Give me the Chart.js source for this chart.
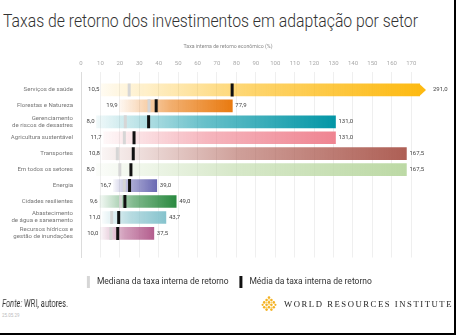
<!DOCTYPE html>
<html>
<head>
<meta charset="utf-8">
<script src="https://cdn.jsdelivr.net/npm/chart.js@4.4.1/dist/chart.umd.min.js"></script>
<style>
  html, body { margin: 0; padding: 0; background: #fff; }
  #page { position: relative; width: 456px; height: 335px; overflow: hidden; font-family: Roboto, sans-serif; }
  #title { position: absolute; left: 3px; top: 10px; font-size: 18px; font-weight: 300; color: #333; white-space: nowrap; transform-origin: left top; }
  #chartBox { position: absolute; left: 0; top: 36px; width: 456px; height: 262px; }
  #source { position: absolute; left: 2px; top: 298px; font-size: 10px; color: #333; white-space: nowrap; transform-origin: left top; will-change: transform; -webkit-font-smoothing: antialiased; }
  #date { position: absolute; left: 2px; top: 313px; font-size: 4.5px; color: #bbb; }
  #logo { position: absolute; left: 261px; top: 296px; width: 16px; height: 16px; }
  #wri { position: absolute; left: 284px; top: 299px; font-family: 'Liberation Serif', serif; font-size: 9px; letter-spacing: 1.6px; color: #222; white-space: nowrap; transform-origin: left top; }
  #frame { position: absolute; right: 0; bottom: 0; width: 456px; height: 335px; box-sizing: border-box; border-right: 2px solid #000; border-bottom: 2px solid #000; pointer-events: none; }
</style>
</head>
<body>
<div id="page">
  <div id="title">Taxas de retorno dos investimentos em adaptação por setor</div>
  <div id="chartBox"><canvas id="chart"></canvas></div>
  <div id="source"><i>Fonte:</i> WRI, autores.</div>
  <div id="date">25.05.29</div>
  <svg id="logo" viewBox="0 0 16 16">
    <g fill="#F4B224">
      <circle cx="8" cy="1.6" r="1.3"/>
      <circle cx="5.6" cy="4" r="1.3"/><circle cx="10.4" cy="4" r="1.3"/>
      <circle cx="3.2" cy="6.4" r="1.3"/><circle cx="8" cy="6.4" r="1.3"/><circle cx="12.8" cy="6.4" r="1.3"/>
      <circle cx="1.6" cy="8.8" r="1.1"/><circle cx="5.6" cy="8.8" r="1.3"/><circle cx="10.4" cy="8.8" r="1.3"/><circle cx="14.4" cy="8.8" r="1.1"/>
      <circle cx="3.2" cy="11.2" r="1.3"/><circle cx="8" cy="11.2" r="1.3"/><circle cx="12.8" cy="11.2" r="1.3"/>
      <circle cx="5.6" cy="13.6" r="1.3"/><circle cx="10.4" cy="13.6" r="1.3"/>
    </g>
    <g fill="#FBD46A">
      <circle cx="8" cy="4" r="0.8"/><circle cx="5.6" cy="6.4" r="0.8"/><circle cx="10.4" cy="6.4" r="0.8"/>
      <circle cx="8" cy="8.8" r="0.8"/><circle cx="5.6" cy="11.2" r="0.8"/><circle cx="10.4" cy="11.2" r="0.8"/>
    </g>
  </svg>
  <div id="wri">WORLD RESOURCES INSTITUTE</div>
  <div id="frame"></div>
</div>
<script>
// setores, de cima para baixo
const sectors = [
  'Serviços de saúde',
  'Florestas e Natureza',
  ['Gerenciamento', 'de riscos de desastres'],
  'Agricultura sustentável',
  'Transportes',
  'Em todos os setores',
  'Energia',
  'Cidades resilientes',
  ['Abastecimento', 'de água e saneamento'],
  ['Recursos hídricos e', 'gestão de inundações'],
];
const minRates = [10.5, 19.9, 8.0, 11.7, 10.8, 8.0, 16.7, 9.6, 11.0, 10.0];
const maxRates = [291.0, 77.9, 131.0, 131.0, 167.5, 167.5, 39.0, 49.0, 43.7, 37.5];
const medianRates = [24.8, 35.0, 22.8, 22.3, 18.7, 20.0, 22.3, 20.4, 15.8, 15.4];
const meanRates = [77.8, 38.7, 34.8, 27.3, 26.9, 25.7, 25.0, 22.6, 19.4, 18.9];
const sectorColors = ['#FDBA12', '#E97A10', '#0396A6', '#EF8491', '#AE5F55', '#BCD9A5', '#6B6AB3', '#2A8A40', '#86C3CD', '#B45E8E'];
const xTicks = [0, 10, 20, 30, 40, 50, 60, 70, 80, 90, 100, 110, 120, 130, 140, 150, 160, 170];
const X_MAX = 174.5;

function rgba(hex, a) {
  const n = parseInt(hex.slice(1), 16);
  return `rgba(${(n >> 16) & 255}, ${(n >> 8) & 255}, ${n & 255}, ${a})`;
}
const fmt = (v) => v.toFixed(1).replace('.', ',');

function barFill(context) {
  const i = context.dataIndex;
  const color = sectorColors[i];
  const { chart } = context;
  if (!chart.chartArea || context.type !== 'data') return color;
  const x = chart.scales.x;
  const x0 = x.getPixelForValue(minRates[i]);
  const x1 = Math.min(x.getPixelForValue(maxRates[i]), chart.chartArea.right);
  const g = chart.ctx.createLinearGradient(x0, 0, x1, 0);
  g.addColorStop(0, rgba(color, 0.06));
  g.addColorStop(0.45, rgba(color, 0.6));
  g.addColorStop(1, color);
  return g;
}

// rótulos de mínimo e máximo + seta da barra que passa do eixo
const valueLabels = {
  id: 'valueLabels',
  afterDatasetsDraw(chart) {
    const { ctx, chartArea, scales: { x } } = chart;
    const meta = chart.getDatasetMeta(0);
    ctx.save();
    ctx.font = '6px Roboto';
    ctx.textBaseline = 'middle';
    meta.data.forEach((bar, i) => {
      const left = x.getPixelForValue(minRates[i]);
      let right = x.getPixelForValue(maxRates[i]) + 3;
      if (maxRates[i] > X_MAX) {
        const h = bar.height / 2;
        ctx.fillStyle = sectorColors[i];
        ctx.beginPath();
        ctx.moveTo(chartArea.right - 0.5, bar.y - h);
        ctx.lineTo(chartArea.right + 6, bar.y);
        ctx.lineTo(chartArea.right - 0.5, bar.y + h);
        ctx.closePath();
        ctx.fill();
        right = chartArea.right + 13;
      }
      ctx.fillStyle = '#444';
      ctx.textAlign = 'right';
      ctx.fillText(fmt(minRates[i]), left - 2, bar.y);
      ctx.textAlign = 'left';
      ctx.fillText(fmt(maxRates[i]), right, bar.y);
    });
    ctx.restore();
  },
};

new Chart(document.getElementById('chart'), {
  type: 'bar',
  data: {
    datasets: [
      {
        type: 'bar',
        label: 'Intervalo',
        data: minRates.map((v, i) => ({ x: [v, maxRates[i]], y: i })),
        backgroundColor: barFill,
        barThickness: 12,
        borderWidth: 0,
        clip: 0,
        order: 3,
      },
      {
        type: 'line',
        label: 'Mediana da taxa interna de retorno',
        data: medianRates.map((v, i) => ({ x: v, y: i })),
        showLine: false,
        pointStyle: 'line',
        rotation: 90,
        radius: 6.5,
        hoverRadius: 6.5,
        borderWidth: 3,
        borderColor: '#d6d6d6',
        backgroundColor: '#d6d6d6',
        order: 2,
      },
      {
        type: 'line',
        label: 'Média da taxa interna de retorno',
        data: meanRates.map((v, i) => ({ x: v, y: i })),
        showLine: false,
        pointStyle: 'line',
        rotation: 90,
        radius: 6.5,
        hoverRadius: 6.5,
        borderWidth: 3,
        borderColor: '#111',
        backgroundColor: '#111',
        order: 1,
      },
    ],
  },
  options: {
    indexAxis: 'y',
    responsive: true,
    maintainAspectRatio: false,
    animation: false,
    layout: { padding: { left: 0, right: 0, top: 0, bottom: 1.8 } },
    plugins: {
      tooltip: { enabled: false },
      title: {
        display: true,
        text: 'Taxa interna de retorno econômico (%)',
        color: '#888',
        font: { family: 'Roboto', size: 5.2, weight: 'normal' },
        padding: { top: 8, bottom: 2 },
      },
      legend: {
        position: 'bottom',
        title: { display: true, text: '', font: { size: 1 }, padding: { top: 0, bottom: 11 } },
        labels: {
          usePointStyle: true,
          color: '#333',
          font: { family: 'Roboto', size: 8.5 },
          padding: 8,
          filter: (item) => item.datasetIndex > 0,
          sort: (a, b) => a.datasetIndex - b.datasetIndex,
        },
      },
    },
    scales: {
      x: {
        type: 'linear',
        position: 'top',
        min: 0,
        max: X_MAX,
        afterBuildTicks: (s) => { s.ticks = xTicks.map((v) => ({ value: v })); },
        afterFit: (s) => { s.height = 19.8; },
        grid: { color: '#efefef', drawTicks: false },
        border: { display: false },
        ticks: { color: '#aaa', font: { family: 'Roboto', size: 6 }, padding: 5, maxRotation: 0, autoSkip: false },
      },
      y: {
        type: 'linear',
        reverse: true,
        min: -0.54,
        max: 9.93,
        afterBuildTicks: (s) => { s.ticks = sectors.map((_, i) => ({ value: i })); },
        afterFit: (s) => { s.width = 81; },
        grid: { display: false, drawTicks: false, tickLength: 0 },
        border: { display: true, color: '#dcdcdc' },
        ticks: {
          color: '#777',
          font: { family: 'Roboto', size: 6.1, lineHeight: 1.15 },
          padding: 8,
          autoSkip: false,
          callback: (v) => sectors[v],
        },
      },
      yRight: {
        type: 'linear',
        position: 'right',
        display: true,
        afterFit: (s) => { s.width = 36; },
        grid: { display: false },
        border: { display: false },
        ticks: { display: false },
      },
    },
  },
  plugins: [valueLabels],
});

function fitWidth(id, target) {
  const el = document.getElementById(id);
  el.style.transform = 'none';
  const w = el.getBoundingClientRect().width;
  el.style.transform = `scaleX(${target / w})`;
}
function fitAll() {
  fitWidth('title', 415);
  fitWidth('source', 66);
  fitWidth('wri', 169);
}
fitAll();
document.fonts.ready.then(fitAll);
</script>
</body>
</html>
